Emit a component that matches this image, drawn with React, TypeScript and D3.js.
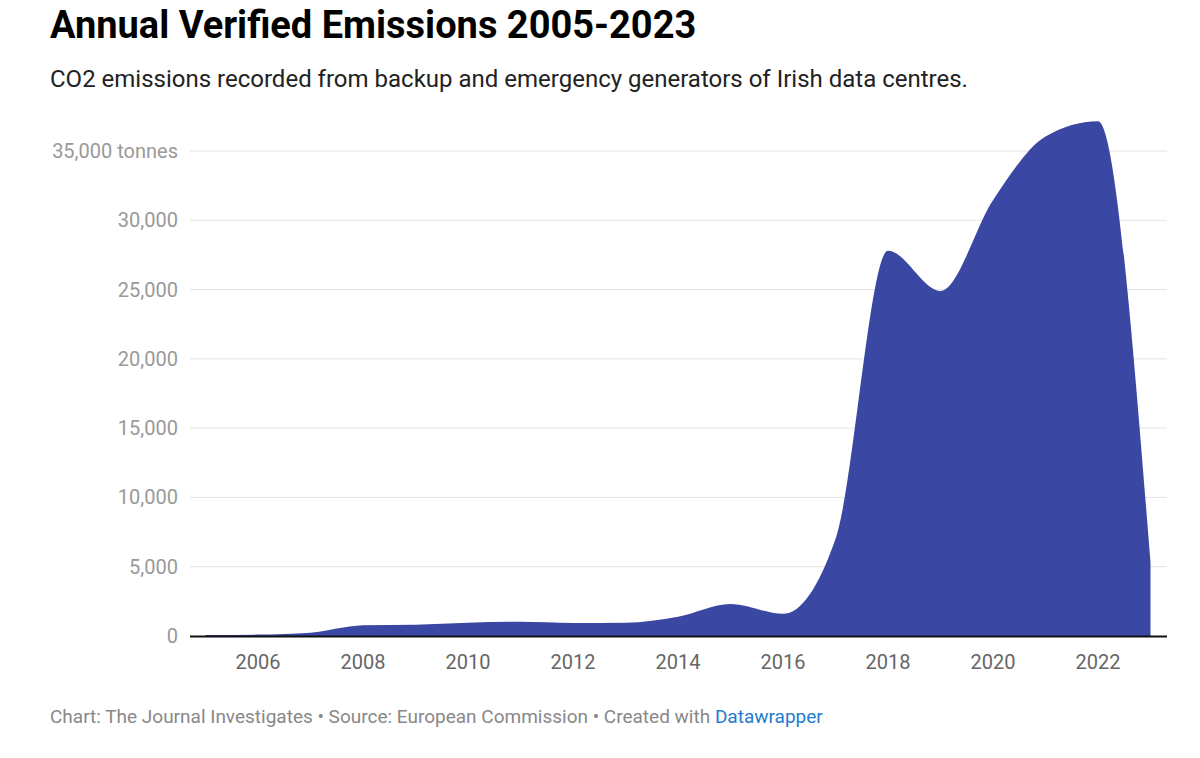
import React, { useEffect, useRef } from 'react';
import * as d3 from 'd3';

const years = [2005, 2006, 2007, 2008, 2009, 2010, 2011, 2012, 2013, 2014, 2015, 2016, 2017, 2018, 2019, 2020, 2021, 2022, 2023];
const emissions = [70, 100, 240, 770, 820, 960, 1030, 940, 960, 1390, 2310, 1600, 7000, 27800, 24900, 31450, 36050, 37150, 5300];
const yTicks = [0, 5000, 10000, 15000, 20000, 25000, 30000, 35000];
const xTicks = [2006, 2008, 2010, 2012, 2014, 2016, 2018, 2020, 2022];

const W = 1200;
const H = 758;

const App = () => {
  const ref = useRef(null);

  useEffect(() => {
    const svg = d3.select(ref.current);
    svg.selectAll('*').remove();

    const left = 190;
    const right = 1167;
    const top = 151;
    const bottom = 636;

    const x = d3.scaleLinear().domain([2005, 2023]).range([205.5, 1150.5]);
    const y = d3.scaleLinear().domain([0, 35000]).range([bottom, top]);

    const font = 'Roboto, "Noto Sans", sans-serif';

    // title + subtitle
    svg
      .append('text')
      .attr('x', 50)
      .attr('y', 38)
      .attr('font-family', font)
      .attr('font-weight', 700)
      .attr('font-size', 38)
      .attr('fill', '#000')
      .text('Annual Verified Emissions 2005-2023');

    svg
      .append('text')
      .attr('x', 50)
      .attr('y', 87)
      .attr('font-family', font)
      .attr('font-size', 24)
      .attr('fill', '#222')
      .text('CO2 emissions recorded from backup and emergency generators of Irish data centres.');

    // grid
    svg
      .append('g')
      .selectAll('line')
      .data(yTicks.filter((d) => d > 0))
      .enter()
      .append('line')
      .attr('x1', left)
      .attr('x2', right)
      .attr('y1', (d) => y(d))
      .attr('y2', (d) => y(d))
      .attr('stroke', '#e3e3e3')
      .attr('stroke-width', 1);

    // y labels
    svg
      .append('g')
      .selectAll('text')
      .data(yTicks)
      .enter()
      .append('text')
      .attr('x', 178)
      .attr('y', (d) => y(d) + 7)
      .attr('text-anchor', 'end')
      .attr('font-family', font)
      .attr('font-size', 20)
      .attr('fill', '#999')
      .text((d) => (d === 35000 ? d3.format(',')(d) + ' tonnes' : d3.format(',')(d)));

    // area
    const area = d3
      .area()
      .x((d, i) => x(years[i]))
      .y0(bottom)
      .y1((d) => y(d))
      .curve(d3.curveMonotoneX);

    svg
      .append('path')
      .datum(emissions)
      .attr('d', area)
      .attr('fill', '#2f3d9e')
      .attr('fill-opacity', 0.95);

    // baseline
    svg
      .append('line')
      .attr('x1', left)
      .attr('x2', right)
      .attr('y1', bottom + 0.5)
      .attr('y2', bottom + 0.5)
      .attr('stroke', '#111')
      .attr('stroke-width', 2);

    // x labels
    svg
      .append('g')
      .selectAll('text')
      .data(xTicks)
      .enter()
      .append('text')
      .attr('x', (d) => x(d))
      .attr('y', 669)
      .attr('text-anchor', 'middle')
      .attr('font-family', font)
      .attr('font-size', 20)
      .attr('fill', '#666')
      .text((d) => d);

    // footer
    const foot = svg
      .append('text')
      .attr('x', 50)
      .attr('y', 723)
      .attr('font-family', font)
      .attr('font-size', 19)
      .attr('fill', '#888');
    foot.append('tspan').text('Chart: The Journal Investigates • Source: European Commission • Created with ');
    foot.append('tspan').attr('fill', '#1f7ccf').text('Datawrapper');
  }, []);

  return (
    <div style={{ position: 'absolute', left: 0, top: 0, width: W, height: H, background: '#fff' }}>
      <svg ref={ref} width={W} height={H}></svg>
    </div>
  );
};

export default App;
